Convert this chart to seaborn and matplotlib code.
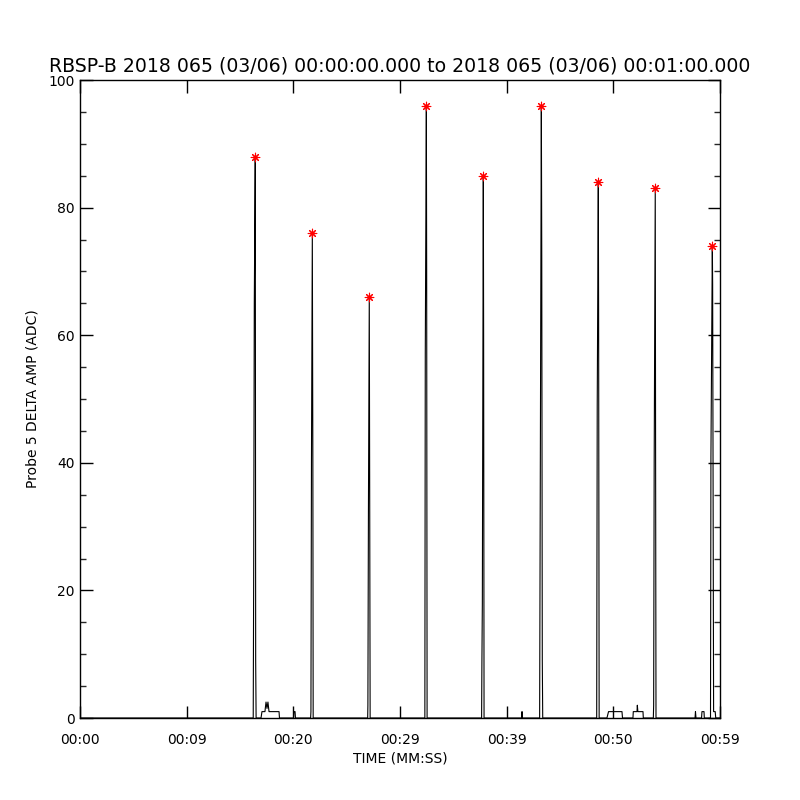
import numpy as np
import pandas as pd
import seaborn as sns
import matplotlib
matplotlib.use('Agg')
import matplotlib.pyplot as plt
from matplotlib.ticker import MultipleLocator

# Probe 5 delta amplitude trace (seconds since 00:00:00, ADC counts)
trace_t = [0.0,
           16.24, 16.28, 16.34, 16.43, 16.47, 16.51,
           16.97, 17.06, 17.34, 17.37, 17.44, 17.53, 17.62, 17.72, 18.66, 18.70,
           20.02, 20.06, 20.16, 20.20,
           21.62, 21.65, 21.70, 21.78, 21.83, 21.86,
           26.97, 26.99, 27.04, 27.12, 27.16, 27.20,
           32.33, 32.37, 32.47, 32.50, 32.54,
           37.65, 37.68, 37.72, 37.81, 37.84, 37.88,
           41.39, 41.44, 41.48,
           43.09, 43.13, 43.25, 43.29, 43.34, 43.38,
           48.44, 48.49, 48.59, 48.62, 48.67,
           49.40, 49.55, 50.81, 50.86,
           51.84, 51.87, 52.22, 52.25, 52.30, 52.78, 52.81,
           53.75, 53.78, 53.83, 53.93, 53.96, 54.00,
           57.66, 57.70, 57.75,
           58.27, 58.31, 58.50, 58.53,
           59.11, 59.15, 59.28, 59.31, 59.40, 59.55, 59.60,
           60.0]
trace_v = [0,
           0, 21, 65, 88, 9, 0,
           0, 1, 1, 1.5, 2.5, 1.5, 2.5, 1, 1, 0,
           0, 1, 1, 0,
           0, 1, 40, 76, 40, 0,
           0, 2, 32, 66, 34, 0,
           0, 57, 96, 70, 0,
           0, 9, 18, 85, 60, 0,
           0, 1, 0,
           0, 24, 96, 72, 9, 0,
           0, 49, 84, 64, 0,
           0, 1, 1, 0,
           0, 1, 1, 2, 1, 1, 0,
           0, 2, 40, 83, 44, 0,
           0, 1, 0,
           0, 1, 1, 0,
           0, 41, 74, 68, 1, 1, 0,
           0]

# peak markers
peak_t = [16.43, 21.78, 27.12, 32.47, 37.81, 43.25, 48.59, 53.93, 59.28]
peak_v = [88, 76, 66, 96, 85, 96, 84, 83, 74]

xtick_pos = [0, 10, 20, 30, 40, 50, 60]
xtick_lab = ['00:00', '00:09', '00:20', '00:29', '00:39', '00:50', '00:59']

df = pd.DataFrame({'t': trace_t, 'v': trace_v})
peaks = pd.DataFrame({'t': peak_t, 'v': peak_v})

sns.set_style('white')
plt.rcParams['font.family'] = ['DejaVu Sans']
plt.rcParams['text.color'] = 'black'
plt.rcParams['axes.labelcolor'] = 'black'

fig = plt.figure(figsize=(8, 8), dpi=100)
ax = fig.add_axes([0.1, 0.1025, 0.8, 0.7975])

sns.lineplot(data=df, x='t', y='v', sort=False, estimator=None,
             color='black', linewidth=0.8, ax=ax)
sns.scatterplot(data=peaks, x='t', y='v', marker=(8, 2, 0), s=38,
                color='red', edgecolor='red', linewidth=0.8, ax=ax, zorder=5)
sns.scatterplot(data=peaks, x='t', y='v', marker='o', s=7,
                color='red', edgecolor='red', linewidth=0, ax=ax, zorder=6)

ax.set_xlim(0, 60)
ax.set_ylim(0, 100)
ax.set_xticks(xtick_pos)
ax.set_xticklabels(xtick_lab)
ax.yaxis.set_major_locator(MultipleLocator(20))
ax.yaxis.set_minor_locator(MultipleLocator(5))

for s in ax.spines.values():
    s.set_color('black')
    s.set_linewidth(1.0)

ax.tick_params(axis='x', which='major', direction='in', length=9, width=1.0,
               top=True, bottom=True, labelsize=10, pad=11, colors='black')
ax.tick_params(axis='y', which='major', direction='in', length=9, width=1.0,
               left=True, right=True, labelsize=10, pad=4, colors='black')
ax.tick_params(axis='y', which='minor', direction='in', length=4.5, width=1.0,
               left=True, right=True)

ax.set_xlabel('TIME (MM:SS)', fontsize=10)
ax.set_ylabel('Probe 5 DELTA AMP (ADC)', fontsize=10)
ax.xaxis.set_label_coords(0.5, -0.053)
ax.yaxis.set_label_coords(-0.064, 0.5)
ax.set_title('RBSP-B 2018 065 (03/06) 00:00:00.000 to 2018 065 (03/06) 00:01:00.000',
             fontsize=13.6, pad=6)

fig.savefig('out.png', dpi=100, facecolor='white')
